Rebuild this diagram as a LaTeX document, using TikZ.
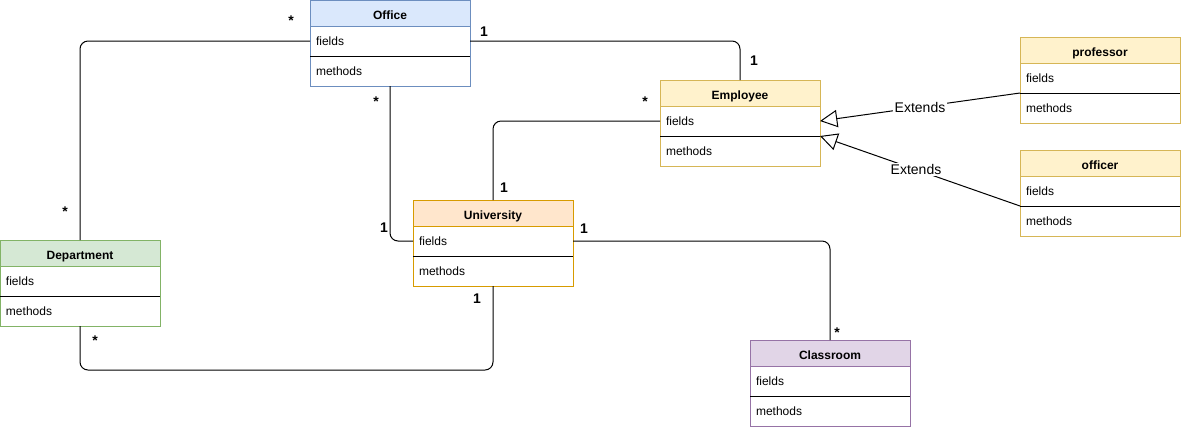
\documentclass[tikz,border=0pt]{standalone}
\usepackage{fontspec}
\setmainfont{Liberation Sans}
\usetikzlibrary{positioning,arrows.meta}
\definecolor{bluefill}{HTML}{DAE8FC}
\definecolor{blueline}{HTML}{6C8EBF}
\definecolor{yellowfill}{HTML}{FFF2CC}
\definecolor{yellowline}{HTML}{D6B656}
\definecolor{orangefill}{HTML}{FFE6CC}
\definecolor{orangeline}{HTML}{D79B00}
\definecolor{greenfill}{HTML}{D5E8D4}
\definecolor{greenline}{HTML}{82B366}
\definecolor{purplefill}{HTML}{E1D5E7}
\definecolor{purpleline}{HTML}{9673A6}

\begin{document}
\begin{tikzpicture}
	% university class diagram with associations and two generalisations
	[x=0.75pt,y=-0.75pt,line width=0.75pt,
	head/.style={rectangle,minimum width=120pt,minimum height=19.5pt,inner sep=0pt,outer sep=0pt,text height=9pt,text depth=0pt,font=\bfseries\fontsize{9}{11}\selectfont},
	row/.style={rectangle,fill=white,minimum height=22.5pt,text width=111pt,inner xsep=4.5pt,inner ysep=0pt,outer sep=0pt,align=left,font=\fontsize{9}{11}\selectfont},
	link/.style={rounded corners=6pt},
	extends/.style={-{Triangle[open,length=13pt,width=13pt]}},
	mult/.style={font=\bfseries\fontsize{10.5}{12}\selectfont,inner sep=0pt},
	tag/.style={fill=white,inner sep=1pt,font=\fontsize{10.5}{12}\selectfont}]
	\useasboundingbox (0,0) rectangle (1181,430);

	\node[head,fill=bluefill,draw=blueline] (office) at (390,13) {Office};
	\node[row,draw=blueline,below=0pt of office] (officef) {fields};
	\node[row,draw=blueline,below=0pt of officef] (officem) {methods};
	\draw (officef.south west) -- (officef.south east);

	\node[head,fill=yellowfill,draw=yellowline] (employee) at (740,93) {Employee};
	\node[row,draw=yellowline,below=0pt of employee] (employeef) {fields};
	\node[row,draw=yellowline,below=0pt of employeef] (employeem) {methods};
	\draw (employeef.south west) -- (employeef.south east);

	\node[head,fill=yellowfill,draw=yellowline] (professor) at (1100,50) {professor};
	\node[row,draw=yellowline,below=0pt of professor] (professorf) {fields};
	\node[row,draw=yellowline,below=0pt of professorf] (professorm) {methods};
	\draw (professorf.south west) -- (professorf.south east);

	\node[head,fill=yellowfill,draw=yellowline] (officer) at (1100,163) {officer};
	\node[row,draw=yellowline,below=0pt of officer] (officerf) {fields};
	\node[row,draw=yellowline,below=0pt of officerf] (officerm) {methods};
	\draw (officerf.south west) -- (officerf.south east);

	\node[head,fill=orangefill,draw=orangeline] (university) at (493,213) {University};
	\node[row,draw=orangeline,below=0pt of university] (universityf) {fields};
	\node[row,draw=orangeline,below=0pt of universityf] (universitym) {methods};
	\draw (universityf.south west) -- (universityf.south east);

	\node[head,fill=greenfill,draw=greenline] (department) at (80,253) {Department};
	\node[row,draw=greenline,below=0pt of department] (departmentf) {fields};
	\node[row,draw=greenline,below=0pt of departmentf] (departmentm) {methods};
	\draw (departmentf.south west) -- (departmentf.south east);

	\node[head,fill=purplefill,draw=purpleline] (classroom) at (830,353) {Classroom};
	\node[row,draw=purpleline,below=0pt of classroom] (classroomf) {fields};
	\node[row,draw=purpleline,below=0pt of classroomf] (classroomm) {methods};
	\draw (classroomf.south west) -- (classroomf.south east);

	% associations
	\draw[link] (officef.west) -| (department.north);
	\draw[link] (officef.east) -| (employee.north);
	\draw[link] (officem.south) |- (universityf.west);
	\draw[link] (employeef.west) -| (university.north);
	\draw[link] (universityf.east) -| (classroom.north);
	\draw[link] (universitym.south) -- ++(0,84) -| (departmentm.south);

	% generalisations
	\draw[extends] (professorf.south west) -- node[tag] (ext1) {Extends} (employeef.east);
	\draw[extends] (officerf.south west) -- node[tag,pos=0.52] (ext2) {Extends} (employeef.south east);

	\node[mult] (m1) at (291,21) {*};
	\node[mult] (m2) at (484,32) {1};
	\node[mult] (m3) at (754,61) {1};
	\node[mult] (m4) at (645,102) {*};
	\node[mult] (m5) at (376,102) {*};
	\node[mult] (m6) at (504,188) {1};
	\node[mult] (m7) at (65,212) {*};
	\node[mult] (m8) at (384,228) {1};
	\node[mult] (m9) at (584,229) {1};
	\node[mult] (m10) at (477,299) {1};
	\node[mult] (m11) at (837,333) {*};
	\node[mult] (m12) at (95,341) {*};
\end{tikzpicture}
\end{document}
